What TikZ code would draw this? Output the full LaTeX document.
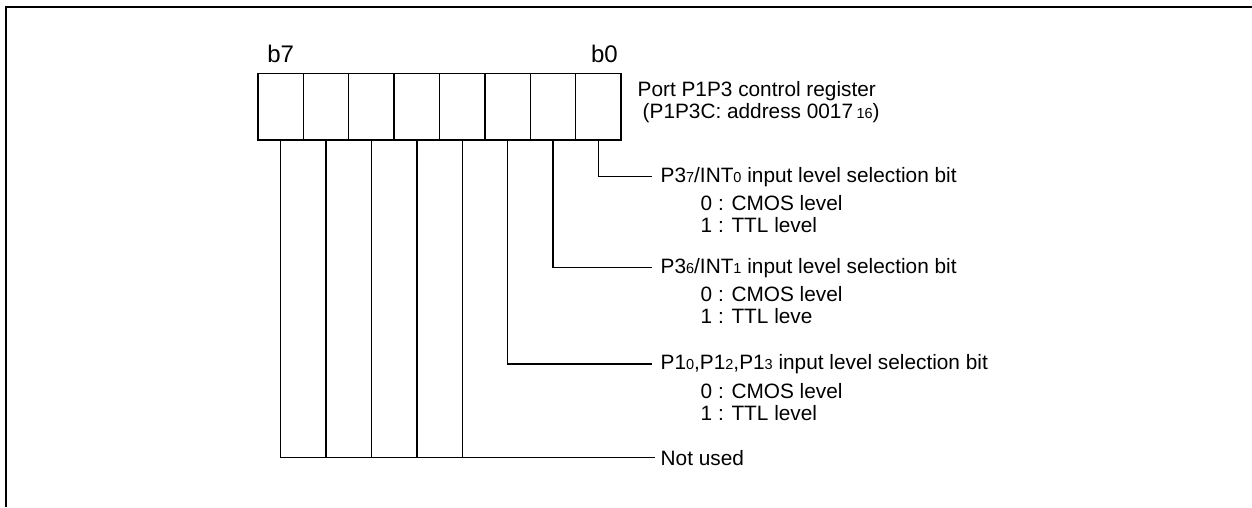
\documentclass[tikz,border=0pt]{standalone}
\usepackage{fontspec}
\setmainfont{Liberation Sans}
\usetikzlibrary{positioning}
\newcommand{\subdig}[1]{{\fontsize{14.5}{14.5}\selectfont #1}}
\begin{document}
\begin{tikzpicture}[x=1pt,y=-1pt,line width=1.4pt,
	cell/.style={draw, rectangle, minimum width=45.4pt, minimum height=66.7pt, inner sep=0pt, outer sep=0pt},
	hdr/.style={font=\fontsize{24}{26}\selectfont, inner sep=0pt},
	lbl/.style={anchor=west, inner xsep=8pt, inner ysep=0pt, font=\fontsize{20.8}{22}\selectfont},
	opt/.style={align=left, inner sep=0pt, font=\fontsize{20.8}{22}\selectfont}]
		\useasboundingbox (0,0) rectangle (1252,507);
		\draw[line width=2pt] (6,507) -- (6,6.5) -- (1252,6.5);
		
		\node (c7) [cell] at (280.6,106.7) {};
		\foreach \i in {6,...,0}{
			\pgfmathtruncatemacro{\j}{\i+1}
			\node (c\i) [cell, right=0pt of c\j] {};
		}
		\node (b7) [hdr, above=10pt of c7] {b7};
		\node (b0) [hdr, above=10pt of c0, xshift=6pt] {b0};
		\node (reg) [lbl, align=left] at (629,102) {Port P1P3 control register\\\hspace*{5pt}(P1P3C: address 0017\,\subdig{16})};
		
		\node (t0) [lbl] at (652,176.7) {P3\subdig{7}/INT\subdig{0} input level selection bit};
		\node (o0) [opt, below right=8pt and 48pt of t0.south west] {0 : CMOS level\\1 : TTL level};
		\node (t1) [lbl] at (652,267.7) {P3\subdig{6}/INT\subdig{1} input level selection bit};
		\node (o1) [opt, below right=8pt and 48pt of t1.south west] {0 : CMOS level\\1 : TTL leve};
		\node (t2) [lbl] at (652,364) {P1\subdig{0},P1\subdig{2},P1\subdig{3} input level selection bit};
		\node (o2) [opt, below right=8pt and 48pt of t2.south west] {0 : CMOS level\\1 : TTL level};
		\node (nu) [lbl, inner xsep=5pt] at (655,457.7) {Not used};
		
		\draw (c0.south) |- (t0.west);
		\draw (c1.south) |- (t1.west);
		\draw (c2.south) |- (t2.west);
		\draw (c7.south) |- (nu.west);
		\foreach \i in {3,...,6}
			\draw (c\i.south) -- (c\i.south |- nu.west);
\end{tikzpicture}
\end{document}
